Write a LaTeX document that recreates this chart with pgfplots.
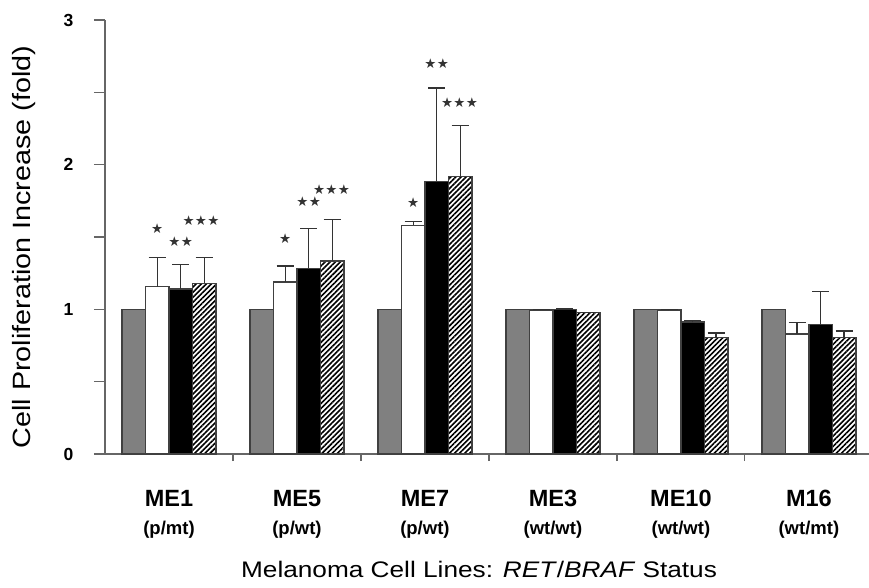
\documentclass[border=0pt]{standalone}
\usepackage{pgfplots}
\pgfplotsset{compat=1.18}
\usepackage{fontspec}
\setmainfont{Liberation Sans}
\newfontfamily\symfont{DejaVu Sans}
\newfontfamily\ylabfont[FakeStretch=1.15]{Liberation Sans}
\newfontfamily\xlabfont[FakeStretch=1.165]{Liberation Sans}
\usetikzlibrary{patterns.meta}
\pgfplotsset{
  myerr/.style={
    error bars/y dir=plus, error bars/y explicit,
    error bars/error bar style={line width=1.3pt, draw=black!80},
    error bars/error mark options={rotate=90, mark size=8.5pt, line width=1.3pt, draw=black!80}},
}
\newcommand{\xl}[2]{{\fontsize{23.5}{29}\selectfont\bfseries #1}\\[13pt]{\fontsize{18.5}{18.5}\selectfont\bfseries #2}}
\begin{document}
\begin{tikzpicture}
\useasboundingbox (0,0) rectangle (869pt,587pt);
\begin{axis}[
  at={(105pt,133pt)}, anchor=south west,
  scale only axis, width=764pt, height=434pt,
  ymin=0, ymax=3, xmin=-0.5, xmax=5.47,
  axis x line*=bottom, axis y line*=left,
  axis line style={draw=black!60, line width=1.2pt},
  ytick={0,0.5,1,1.5,2,2.5,3},
  yticklabels={\textbf{0},,\textbf{1},,\textbf{2},,\textbf{3}},
  tick align=outside,
  major tick length=11pt, minor tick length=7pt,
  tick style={draw=black!60, line width=1.2pt},
  xtick={0,1,2,3,4,5},
  major x tick style={draw=none},
  minor xtick={0.5,1.5,2.5,3.5,4.5},
  xticklabels={
    {\xl{ME1}{(p/mt)}},
    {\xl{ME5}{(p/wt)}},
    {\xl{ME7}{(p/wt)}},
    {\xl{ME3}{(wt/wt)}},
    {\xl{ME10}{(wt/wt)}},
    {\xl{M16}{(wt/mt)}}},
  xticklabel style={align=center, anchor=north, yshift=-22pt},
  yticklabel style={font=\fontsize{17.5}{17.5}\selectfont, xshift=-17pt},
  ylabel={Cell Proliferation Increase (fold)},
  ylabel style={font=\ylabfont\fontsize{25}{25}\selectfont, at={(axis description cs:-0.106,0.477)}, anchor=center},
  xlabel={Melanoma Cell Lines: \textit{RET}/\textit{BRAF} Status},
  xlabel style={font=\xlabfont\fontsize{22.5}{24}\selectfont, at={(axis description cs:0.4895,0)}, anchor=base, yshift=-123pt},
  ybar=0pt, bar width=23.5pt,
  every axis plot/.append style={draw=black!75, line width=1.3pt},
]
% Control (gray)
\addplot[fill=black!50] coordinates {(0,1.0) (1,1.0) (2,1.0) (3,1.0) (4,1.0) (5,1.0)};
% White
\addplot[fill=white, myerr] coordinates {
 (0,1.156) +- (0,0.204)
 (1,1.19) +- (0,0.11)
 (2,1.58) +- (0,0.025)
 (3,0.995) +- (0,0.005)
 (4,0.995) +- (0,0.005)
 (5,0.83) +- (0,0.08)};
% Black
\addplot[fill=black, myerr] coordinates {
 (0,1.14) +- (0,0.17)
 (1,1.283) +- (0,0.277)
 (2,1.885) +- (0,0.645)
 (3,1.0) +- (0,0.003)
 (4,0.912) +- (0,0.012)
 (5,0.894) +- (0,0.23)};
% Hatched
\addplot[fill=white, postaction={pattern={Lines[angle=45,distance=3.6pt,line width=1.6pt]}, pattern color=black}, myerr] coordinates {
 (0,1.18) +- (0,0.18)
 (1,1.334) +- (0,0.286)
 (2,1.917) +- (0,0.353)
 (3,0.976) +- (0,0.0)
 (4,0.804) +- (0,0.032)
 (5,0.804) +- (0,0.046)};
% significance stars
\tikzset{stars/.style={font=\symfont\fontsize{13.5}{13.5}\selectfont, text=black!80, inner sep=0pt}}
\node[stars] at (axis cs:-0.0918,1.56) {★};
\node[stars] at (axis cs:0.0918,1.47) {★\kern0.3pt★};
\node[stars] at (axis cs:0.25,1.61) {★\kern0.3pt★\kern0.3pt★};
\node[stars] at (axis cs:0.9082,1.486) {★};
\node[stars] at (axis cs:1.0918,1.744) {★\kern0.3pt★};
\node[stars] at (axis cs:1.27,1.83) {★\kern0.3pt★\kern0.3pt★};
\node[stars] at (axis cs:1.9082,1.74) {★};
\node[stars] at (axis cs:2.0918,2.70) {★\kern0.3pt★};
\node[stars] at (axis cs:2.27,2.43) {★\kern0.3pt★\kern0.3pt★};
\end{axis}
\end{tikzpicture}
\end{document}
